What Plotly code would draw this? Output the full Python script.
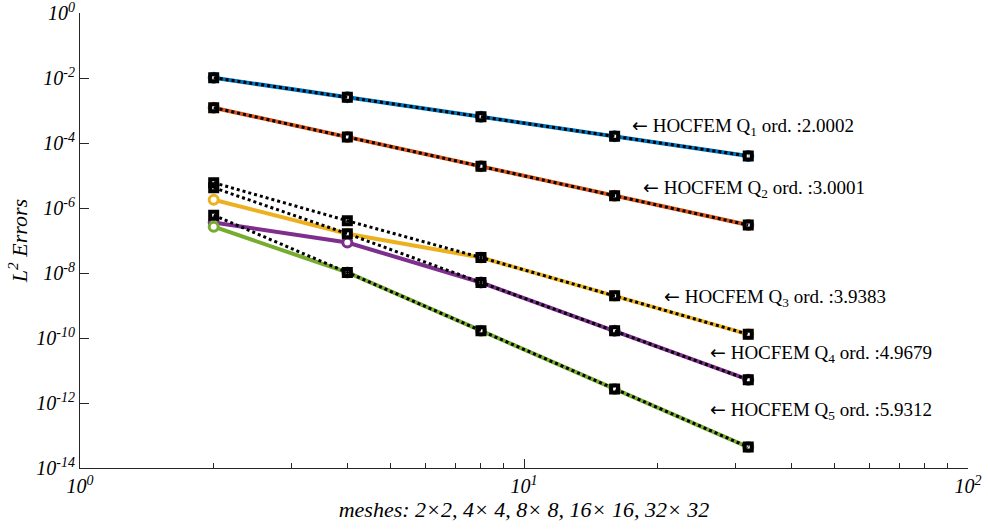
import plotly.graph_objects as go
import numpy as np

meshes = [2, 4, 8, 16, 32]

# HOCFEM errors (colored solid lines, circle markers)
q1 = [1.02e-2, 2.55e-3, 6.4e-4, 1.6e-4, 4.0e-5]
q2 = [1.22e-3, 1.53e-4, 1.91e-5, 2.39e-6, 2.99e-7]
q3 = [1.8e-6, 1.62e-7, 3.0e-8, 2.0e-9, 1.3e-10]
q4 = [3.6e-7, 8.7e-8, 5.1e-9, 1.67e-10, 5.2e-12]
q5 = [2.66e-7, 1.04e-8, 1.68e-10, 2.7e-12, 4.4e-14]

# reference errors (black dotted lines, square markers)
q1_ref = [1.02e-2, 2.55e-3, 6.4e-4, 1.6e-4, 4.0e-5]
q2_ref = [1.22e-3, 1.53e-4, 1.91e-5, 2.39e-6, 2.99e-7]
q3_ref = [6.0e-6, 4.05e-7, 3.0e-8, 2.0e-9, 1.3e-10]
q4_ref = [4.2e-6, 1.62e-7, 5.1e-9, 1.67e-10, 5.2e-12]
q5_ref = [6.0e-7, 1.04e-8, 1.68e-10, 2.7e-12, 4.4e-14]

colors = ["#0072BD", "#D95319", "#EDB120", "#7E2F8E", "#77AC30"]
labels = ["1", "2", "3", "4", "5"]
orders = ["2.0002", "3.0001", "3.9383", "4.9679", "5.9312"]
label_x = [17.3, 18.3, 20.5, 26.0, 26.0]
label_y = [3.2e-4, 3.9e-6, 1.75e-9, 3.3e-11, 5.8e-13]

y_tickvals = [1e0, 1e-2, 1e-4, 1e-6, 1e-8, 1e-10, 1e-12, 1e-14]
y_ticktext = ["10<sup>0</sup>", "10<sup>-2</sup>", "10<sup>-4</sup>", "10<sup>-6</sup>",
              "10<sup>-8</sup>", "10<sup>-10</sup>", "10<sup>-12</sup>", "10<sup>-14</sup>"]
x_tickvals = [1, 10, 100]
x_ticktext = ["10<sup>0</sup>", "10<sup>1</sup>", "10<sup>2</sup>"]
x_minor = [2, 3, 4, 5, 6, 7, 8, 9, 20, 30, 40, 50, 60, 70, 80, 90]

fig = go.Figure()
series = [(q1, q1_ref), (q2, q2_ref), (q3, q3_ref), (q4, q4_ref), (q5, q5_ref)]
for (vals, ref), c in zip(series, colors):
    fig.add_trace(go.Scatter(
        x=meshes, y=vals, mode="lines+markers",
        line=dict(color=c, width=4),
        marker=dict(symbol="circle", size=9, color="white", line=dict(color=c, width=3)),
        showlegend=False))
    fig.add_trace(go.Scatter(
        x=meshes, y=ref, mode="lines+markers",
        line=dict(color="black", width=3, dash="dot"),
        marker=dict(symbol="square-open", size=7, color="black", line=dict(color="black", width=4)),
        showlegend=False))

serif = "Liberation Serif"
for lab, o, lx, ly in zip(labels, orders, label_x, label_y):
    fig.add_annotation(x=np.log10(lx), y=np.log10(ly), xref="x", yref="y",
                       text=(f"<span style=\"font-family:'DejaVu Sans'\">\u2190</span> "
                             f"HOCFEM Q<sub>{lab}</sub> ord. :{o}"),
                       showarrow=False, xanchor="left", yanchor="middle",
                       font=dict(family=serif, size=19, color="black"))

axis_color = "#262626"
tickfont = dict(family=serif, size=20, color="black", style="italic")
fig.update_layout(
    width=988, height=532,
    margin=dict(l=80, r=20, t=13, b=64, autoexpand=False),
    paper_bgcolor="white", plot_bgcolor="white",
    xaxis=dict(type="log", range=[-0.0001, 2.0001], showgrid=False, zeroline=False,
               showline=True, linecolor=axis_color, linewidth=1, automargin=False,
               ticks="inside", ticklen=9, tickcolor=axis_color,
               tickvals=x_tickvals, ticktext=x_ticktext, tickfont=tickfont,
               ticklabeloverflow="allow",
               minor=dict(tickvals=x_minor, ticks="inside", ticklen=5, tickcolor=axis_color, showgrid=False),
               title=dict(text="meshes: 2\u00d72, 4\u00d7 4, 8\u00d7 8, 16\u00d7 16, 32\u00d7 32",
                          font=dict(family=serif, size=22, color="black", style="italic"), standoff=2)),
    yaxis=dict(type="log", range=[-14.0001, 0.0001], showgrid=False, zeroline=False,
               showline=True, linecolor=axis_color, linewidth=1, automargin=False,
               ticks="inside", ticklen=9, tickcolor=axis_color,
               tickvals=y_tickvals, ticktext=y_ticktext, tickfont=tickfont,
               ticklabeloverflow="allow",
               title=dict(text="L<sup>2</sup> Errors",
                          font=dict(family=serif, size=22, color="black", style="italic"), standoff=2)),
)

fig.write_html("out.html")
